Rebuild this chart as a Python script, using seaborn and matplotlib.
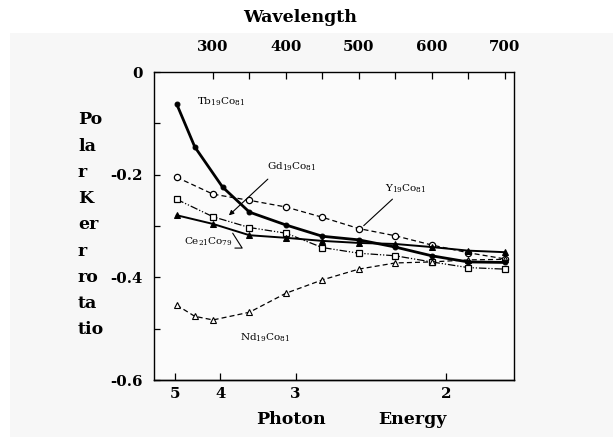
import numpy as np
import pandas as pd
import matplotlib
matplotlib.use("Agg")
import matplotlib.pyplot as plt
from matplotlib.patches import Rectangle
import seaborn as sns

# ---- data: polar Kerr rotation (deg) vs wavelength (nm) ----
wl_common = [250, 300, 350, 400, 450, 500, 550, 600, 650, 700]

wl_tb = [250, 275, 313, 350, 400, 450, 500, 550, 600, 650, 700]
kerr_tb = [-0.062, -0.146, -0.224, -0.273, -0.298, -0.320, -0.327, -0.341, -0.358, -0.370, -0.371]

kerr_y = [-0.205, -0.238, -0.250, -0.263, -0.283, -0.305, -0.319, -0.337, -0.352, -0.364]

kerr_gd = [-0.248, -0.282, -0.303, -0.314, -0.342, -0.353, -0.358, -0.370, -0.381, -0.384]

kerr_ce = [-0.279, -0.296, -0.318, -0.323, -0.329, -0.333, -0.335, -0.341, -0.348, -0.351]

wl_nd = [250, 275, 300, 350, 400, 450, 500, 550, 600, 650, 700]
kerr_nd = [-0.454, -0.476, -0.483, -0.468, -0.431, -0.405, -0.384, -0.372, -0.370, -0.366, -0.365]

wl_ticks = [300, 400, 500, 600, 700]
wl_minor = [350, 450, 550, 650]
ev_ticks = [5, 4, 3, 2]
kerr_ticks = [0, -0.2, -0.4, -0.6]
kerr_tick_labels = ["0", "-0.2", "-0.4", "-0.6"]
kerr_minor = [-0.1, -0.3, -0.5]
ylabel_chunks = ["Po", "la", "r", "K", "er", "r", "ro", "ta", "tio"]

sns.set_style("ticks")
plt.rcParams["font.family"] = ["DejaVu Serif"]
plt.rcParams["mathtext.fontset"] = "dejavuserif"
plt.rcParams["axes.unicode_minus"] = False
for key in ["text.color", "axes.labelcolor", "xtick.color", "ytick.color", "axes.edgecolor"]:
    plt.rcParams[key] = "black"

W, H = 613, 437
fig = plt.figure(figsize=(W / 100, H / 100), dpi=100)
fig.patch.set_facecolor("white")
fig.patches.append(Rectangle((10 / W, 0), 1, (H - 33) / H, transform=fig.transFigure,
                             facecolor="#f7f7f7", edgecolor="none", zorder=-10))

ax = fig.add_axes([154 / W, (H - 380) / H, (514 - 154) / W, (380 - 72) / H])
ax.set_zorder(2)
ax.set_facecolor("#fbfbfb")

def series(wl, k):
    return pd.DataFrame({"wavelength": wl, "kerr": k})

# Tb19Co81: thick solid, small filled circles
sns.lineplot(data=series(wl_tb, kerr_tb), x="wavelength", y="kerr", ax=ax,
             color="black", linewidth=2.0, marker="o", markersize=3.5,
             markerfacecolor="black", markeredgecolor="black", zorder=5)
# Y19Co81: dashed, open circles
sns.lineplot(data=series(wl_common, kerr_y), x="wavelength", y="kerr", ax=ax,
             color="black", linewidth=0.9, linestyle=(0, (4, 2.5)), marker="o",
             markersize=4.5, markerfacecolor="white", markeredgecolor="black",
             markeredgewidth=0.9, zorder=4)
# Gd19Co81: dash-dot-dot, open squares
sns.lineplot(data=series(wl_common, kerr_gd), x="wavelength", y="kerr", ax=ax,
             color="black", linewidth=0.9, linestyle=(0, (6, 1.5, 1, 1.5, 1, 1.5)),
             marker="s", markersize=4.5, markerfacecolor="white",
             markeredgecolor="black", markeredgewidth=0.9, zorder=4)
# Ce21Co79: solid, filled triangles
sns.lineplot(data=series(wl_common, kerr_ce), x="wavelength", y="kerr", ax=ax,
             color="black", linewidth=1.4, marker="^", markersize=4.5,
             markerfacecolor="black", markeredgecolor="black", zorder=4)
# Nd19Co81: dashed, open triangles
sns.lineplot(data=series(wl_nd, kerr_nd), x="wavelength", y="kerr", ax=ax,
             color="black", linewidth=0.9, linestyle=(0, (4, 2.5)), marker="^",
             markersize=4.5, markerfacecolor="white", markeredgecolor="black",
             markeredgewidth=0.8, zorder=4)

ax.set_xlim(219, 713)
ax.set_ylim(-0.6, 0)
ax.set_xlabel("")
ax.set_ylabel("")

for s in ax.spines.values():
    s.set_color("black")
    s.set_linewidth(1.0)
    s.set_visible(True)

tick_font = dict(family="DejaVu Serif", weight="bold", size=10.8)

# wavelength scale on top
ax.xaxis.tick_top()
ax.set_xticks(wl_ticks)
ax.set_xticklabels([str(v) for v in wl_ticks], **tick_font)
ax.set_xticks(wl_minor, minor=True)
ax.tick_params(axis="x", which="both", direction="in", length=5, width=0.9, pad=13,
               top=True, bottom=False)

# Kerr rotation scale
ax.set_yticks(kerr_ticks)
ax.set_yticklabels(kerr_tick_labels, **tick_font)
ax.set_yticks(kerr_minor, minor=True)
ax.tick_params(axis="y", which="both", direction="in", length=4, width=0.9, pad=8,
               left=True, right=False)

# photon energy scale on the bottom
sec = ax.secondary_xaxis("bottom", functions=(lambda l: 1240.0 / l, lambda e: 1240.0 / e))
sec.set_xticks(ev_ticks)
sec.set_xticklabels([str(v) for v in ev_ticks], **tick_font)
sec.tick_params(direction="in", length=5, width=0.9, pad=5)
sec.spines["bottom"].set_linewidth(1.0)

label_font = dict(family="DejaVu Serif", weight="bold", size=12.5)

def px(x, y):
    return x / W, 1 - y / H

fig.text(*px(300, 17), "Wavelength", ha="center", va="center", **label_font)
fig.text(*px(291, 419), "Photon", ha="center", va="center", **label_font)
fig.text(*px(412, 419), "Energy", ha="center", va="center", **label_font)
for i, chunk in enumerate(ylabel_chunks):
    fig.text(*px(78, 120 + 26.2 * i), chunk, ha="left", va="center", **label_font)

# curve labels
lab = dict(fontsize=7.5, color="black", ha="center", va="center")
ax.text(311, -0.058, r"Tb$_{19}$Co$_{81}$", **lab)
ax.text(408, -0.185, r"Gd$_{19}$Co$_{81}$", **lab)
ax.text(564, -0.228, r"Y$_{19}$Co$_{81}$", **lab)
ax.text(293, -0.331, r"Ce$_{21}$Co$_{79}$", **lab)
ax.text(371, -0.517, r"Nd$_{19}$Co$_{81}$", **lab)

arrow = dict(arrowstyle="-|>", color="black", lw=0.8, mutation_scale=7)
ax.annotate("", xy=(319, -0.283), xytext=(378, -0.205), arrowprops=arrow)
ax.annotate("", xy=(504, -0.303), xytext=(549, -0.244),
            arrowprops=dict(arrowstyle="-", color="black", lw=0.8))
ax.plot([330, 340, 327], [-0.343, -0.343, -0.314], color="black", lw=0.8)

fig.savefig("out.png", dpi=100, facecolor=fig.get_facecolor())
